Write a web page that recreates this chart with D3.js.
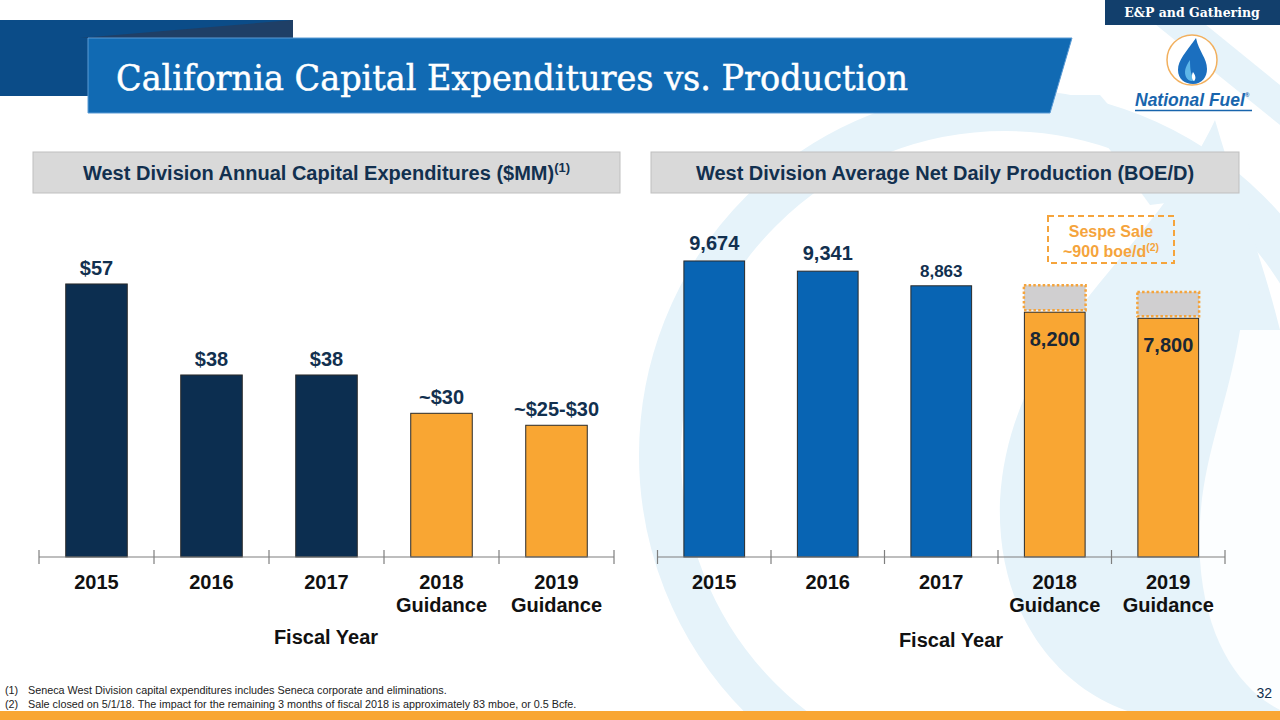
<!DOCTYPE html>
<html>
<head>
<meta charset="utf-8">
<script src="https://cdn.jsdelivr.net/npm/d3@7"></script>
<style>
  html, body { margin: 0; padding: 0; background: #ffffff; }
  svg { display: block; }
</style>
</head>
<body>
<svg id="chart" width="1280" height="720"></svg>
<script>
// ---------------- DATA ----------------
const categoryLines = [["2015"], ["2016"], ["2017"], ["2018", "Guidance"], ["2019", "Guidance"]];
const isGuidance = [false, false, false, true, true];

const capexValues = [57, 38, 38, 30, 27.5];
const capexLabels = ["$57", "$38", "$38", "~$30", "~$25-$30"];

const prodValues = [9674, 9341, 8863, 8000, 7800];
const prodLabels = ["9,674", "9,341", "8,863", "8,200", "7,800"];
const sespeTop = [null, null, null, 8880, 8660];

const titleText = "California Capital Expenditures vs. Production";
const leftHeader = "West Division Annual Capital Expenditures ($MM)";
const rightHeader = "West Division Average Net Daily Production (BOE/D)";
const axisTitle = "Fiscal Year";
const footnotes = [
  ["(1)", "Seneca West Division capital expenditures includes Seneca corporate and eliminations."],
  ["(2)", "Sale closed on 5/1/18. The impact for the remaining 3 months of fiscal 2018 is approximately 83 mboe, or 0.5 Bcfe."]
];

// ---------------- STYLE ----------------
const C = {
  navy: "#0c2e50",
  blue: "#0864b3",
  orange: "#f9a633",
  label: "#12304f",
  headerFill: "#d9d9d9",
  headerStroke: "#bfbfbf",
  axis: "#7f7f7f",
  water: "#e6f3fa",
  gray: "#d0cfd0"
};
const SANS = "'Liberation Sans', Arial, sans-serif";
const SERIF = "'DejaVu Serif', serif";

const svg = d3.select("#chart");

// ---------------- BACKGROUND WATERMARK ----------------
const bg = svg.append("g");
bg.append("circle").attr("cx", 1005).attr("cy", 455).attr("r", 345)
  .attr("fill", "none").attr("stroke", C.water).attr("stroke-width", 42);
bg.append("path")
  .attr("d", "M1215,120 C1150,260 1010,330 1000,500 C995,640 1090,720 1180,720 L1280,720 L1280,330 C1260,250 1235,190 1215,120 Z")
  .attr("fill", C.water);
bg.append("path")
  .attr("d", "M1240,330 C1225,420 1195,470 1200,560 C1205,640 1240,690 1280,710 L1280,330 Z")
  .attr("fill", "#ffffff").attr("opacity", 0.85);
bg.append("path").attr("d", "M1150,20 L1200,20 L1280,85 L1280,125 Z").attr("fill", C.water);
bg.append("path").attr("d", "M1070,95 L1100,95 L1190,200 L1150,205 Z").attr("fill", C.water);

// ---------------- TITLE BANNER ----------------
svg.append("rect").attr("x", 0).attr("y", 20).attr("width", 293).attr("height", 76).attr("fill", "#0b4c88");
svg.append("path").attr("d", "M80,38 L293,20 L293,38 Z").attr("fill", "#1f3f66");
svg.append("path").attr("d", "M88,38 L1072,38 L1050,113 L88,113 Z").attr("fill", "#116ab3")
  .attr("stroke", "#5b9bd5").attr("stroke-width", 1);
svg.append("text").attr("x", 116).attr("y", 90)
  .attr("font-family", SERIF).attr("font-size", 36).attr("fill", "#ffffff")
  .attr("stroke", "#ffffff").attr("stroke-width", 0.5)
  .attr("textLength", 792).attr("lengthAdjust", "spacingAndGlyphs")
  .text(titleText);

// top-right tag
svg.append("rect").attr("x", 1105).attr("y", 0).attr("width", 175).attr("height", 25).attr("fill", "#123f6c");
svg.append("text").attr("x", 1192).attr("y", 17).attr("text-anchor", "middle")
  .attr("font-family", SERIF).attr("font-weight", "bold").attr("font-size", 12.5).attr("fill", "#ffffff")
  .text("E&P and Gathering");

// logo
const logo = svg.append("g");
logo.append("circle").attr("cx", 1192).attr("cy", 60).attr("r", 25).attr("fill", "#ffffff")
  .attr("stroke", "#f2b05e").attr("stroke-width", 1.5);
logo.append("path").attr("d", "M1196,38 C1186,52 1178,60 1178,70 C1178,79 1185,84 1193,84 C1202,84 1207,77 1207,69 C1207,58 1199,52 1196,38 Z")
  .attr("fill", "#1b6fbf");
logo.append("path").attr("d", "M1190,60 C1185,67 1184,72 1186,77 C1188,81 1192,82 1195,80 C1191,76 1190,70 1190,60 Z")
  .attr("fill", "#5fb6e8");
logo.append("path").attr("d", "M1193,72 C1191,76 1192,80 1194,81 C1196,79 1196,76 1193,72 Z").attr("fill", "#ffffff");
const nf = logo.append("text").attr("x", 1135).attr("y", 106)
  .attr("font-family", SANS).attr("font-style", "italic").attr("font-weight", "bold").attr("font-size", 17.5)
  .attr("fill", "#1865ad");
nf.append("tspan").text("National Fuel");
nf.append("tspan").attr("font-size", 6).attr("font-style", "normal").attr("dy", -9).text("®");
logo.append("line").attr("x1", 1135).attr("x2", 1252).attr("y1", 110.5).attr("y2", 110.5)
  .attr("stroke", "#1865ad").attr("stroke-width", 1.5);

// ---------------- SECTION HEADERS ----------------
function header(x0, x1, text, sup) {
  svg.append("rect").attr("x", x0).attr("y", 152).attr("width", x1 - x0).attr("height", 41)
    .attr("fill", C.headerFill).attr("stroke", C.headerStroke).attr("stroke-width", 1);
  const t = svg.append("text").attr("x", (x0 + x1) / 2).attr("y", 180).attr("text-anchor", "middle")
    .attr("font-family", SANS).attr("font-weight", "bold").attr("font-size", 20).attr("fill", C.label);
  t.append("tspan").text(text);
  if (sup) t.append("tspan").attr("font-size", 13).attr("dy", -8).text(sup);
}
header(33, 620, leftHeader, "(1)");
header(651, 1239, rightHeader, null);

// ---------------- CHART BUILDER ----------------
const baseY = 557;
function drawChart(opts) {
  const g = svg.append("g");
  const x = d3.scaleBand().domain(d3.range(categoryLines.length)).range(opts.xRange)
    .paddingInner(0.465).paddingOuter(0.2325);
  const y = d3.scaleLinear().domain(opts.yDomain).range([baseY, baseY - opts.yPx]);

  // bars
  g.selectAll("rect.bar").data(opts.values).enter().append("rect")
    .attr("class", "bar")
    .attr("x", (d, i) => x(i)).attr("width", x.bandwidth())
    .attr("y", d => y(d)).attr("height", d => baseY - y(d))
    .attr("fill", (d, i) => isGuidance[i] ? C.orange : opts.color)
    .attr("stroke", "#2a2a2a").attr("stroke-width", 1);

  // axis (ticks at band edges)
  const step = x.step();
  const edges = d3.range(categoryLines.length + 1).map(i => opts.xRange[0] + i * step);
  g.append("line").attr("x1", opts.xRange[0]).attr("x2", opts.xRange[1]).attr("y1", baseY).attr("y2", baseY)
    .attr("stroke", C.axis).attr("stroke-width", 1.2);
  g.selectAll("line.tick").data(edges).enter().append("line").attr("class", "tick")
    .attr("x1", d => d).attr("x2", d => d).attr("y1", baseY - 7).attr("y2", baseY + 7)
    .attr("stroke", C.axis).attr("stroke-width", 1.2);

  // category labels
  const cl = g.selectAll("text.cat").data(categoryLines).enter().append("text").attr("class", "cat")
    .attr("x", (d, i) => x(i) + x.bandwidth() / 2).attr("y", 589).attr("text-anchor", "middle")
    .attr("font-family", SANS).attr("font-weight", "bold").attr("font-size", 20).attr("fill", "#111111");
  cl.each(function (lines) {
    const t = d3.select(this);
    lines.forEach((l, j) => t.append("tspan").attr("x", t.attr("x")).attr("dy", j === 0 ? 0 : 23).text(l));
  });

  // axis title
  g.append("text").attr("x", opts.titleX).attr("y", opts.titleY).attr("text-anchor", "middle")
    .attr("font-family", SANS).attr("font-weight", "bold").attr("font-size", 20).attr("fill", "#111111")
    .text(axisTitle);

  return { g, x, y };
}

// ---------------- LEFT CHART: CAPEX ----------------
const left = drawChart({
  xRange: [39, 614], yDomain: [0, 60], yPx: 287.4, values: capexValues,
  color: C.navy, titleX: 326, titleY: 644
});
left.g.selectAll("text.val").data(capexValues).enter().append("text").attr("class", "val")
  .attr("x", (d, i) => left.x(i) + left.x.bandwidth() / 2)
  .attr("y", d => left.y(d) - 9).attr("text-anchor", "middle")
  .attr("font-family", SANS).attr("font-weight", "bold").attr("font-size", 20).attr("fill", C.label)
  .text((d, i) => capexLabels[i]);

// ---------------- RIGHT CHART: PRODUCTION ----------------
const right = drawChart({
  xRange: [657.5, 1225], yDomain: [0, 10000], yPx: 306, values: prodValues,
  color: C.blue, titleX: 951, titleY: 647
});
// Sespe sale boxes on top of guidance bars
const sespeIdx = d3.range(prodValues.length).filter(i => sespeTop[i] != null);
right.g.selectAll("rect.sespe").data(sespeIdx).enter()
  .append("rect").attr("class", "sespe")
  .attr("x", i => right.x(i) - 0.5)
  .attr("width", right.x.bandwidth() + 1)
  .attr("y", i => right.y(sespeTop[i]))
  .attr("height", i => right.y(prodValues[i]) - 2 - right.y(sespeTop[i]))
  .attr("fill", C.gray).attr("stroke", "#f5a43c").attr("stroke-width", 2.5).attr("stroke-dasharray", "2.5,2.2");

right.g.selectAll("text.val").data(prodValues).enter().append("text").attr("class", "val")
  .attr("x", (d, i) => right.x(i) + right.x.bandwidth() / 2)
  .attr("y", (d, i) => isGuidance[i] ? right.y(d) + 34 : right.y(d) - (i === 2 ? 9 : 11))
  .attr("text-anchor", "middle")
  .attr("font-family", SANS).attr("font-weight", "bold")
  .attr("font-size", (d, i) => i === 2 ? 17 : 20)
  .attr("fill", (d, i) => isGuidance[i] ? "#1a2735" : C.label)
  .text((d, i) => prodLabels[i]);

// Sespe annotation box
svg.append("rect").attr("x", 1048).attr("y", 216).attr("width", 126).attr("height", 47)
  .attr("fill", "none").attr("stroke", "#f5a43c").attr("stroke-width", 2).attr("stroke-dasharray", "6,4");
svg.append("text").attr("x", 1111).attr("y", 237).attr("text-anchor", "middle")
  .attr("font-family", SANS).attr("font-weight", "bold").attr("font-size", 16).attr("fill", "#f5a43c")
  .text("Sespe Sale");
const st = svg.append("text").attr("x", 1111).attr("y", 257).attr("text-anchor", "middle")
  .attr("font-family", SANS).attr("font-weight", "bold").attr("font-size", 16).attr("fill", "#f5a43c");
st.append("tspan").text("~900 boe/d");
st.append("tspan").attr("font-size", 10.5).attr("dy", -6).text("(2)");

// ---------------- FOOTNOTES ----------------
footnotes.forEach((f, i) => {
  svg.append("text").attr("x", 5).attr("y", 694 + i * 13.5)
    .attr("font-family", SANS).attr("font-size", 10.8).attr("fill", "#222222").text(f[0]);
  svg.append("text").attr("x", 28).attr("y", 694 + i * 13.5)
    .attr("font-family", SANS).attr("font-size", 10.8).attr("fill", "#222222").text(f[1]);
});
svg.append("text").attr("x", 1272).attr("y", 698).attr("text-anchor", "end")
  .attr("font-family", SANS).attr("font-size", 14).attr("fill", C.label).text("32");
svg.append("rect").attr("x", 0).attr("y", 711).attr("width", 1280).attr("height", 9).attr("fill", C.orange);
</script>
</body>
</html>
